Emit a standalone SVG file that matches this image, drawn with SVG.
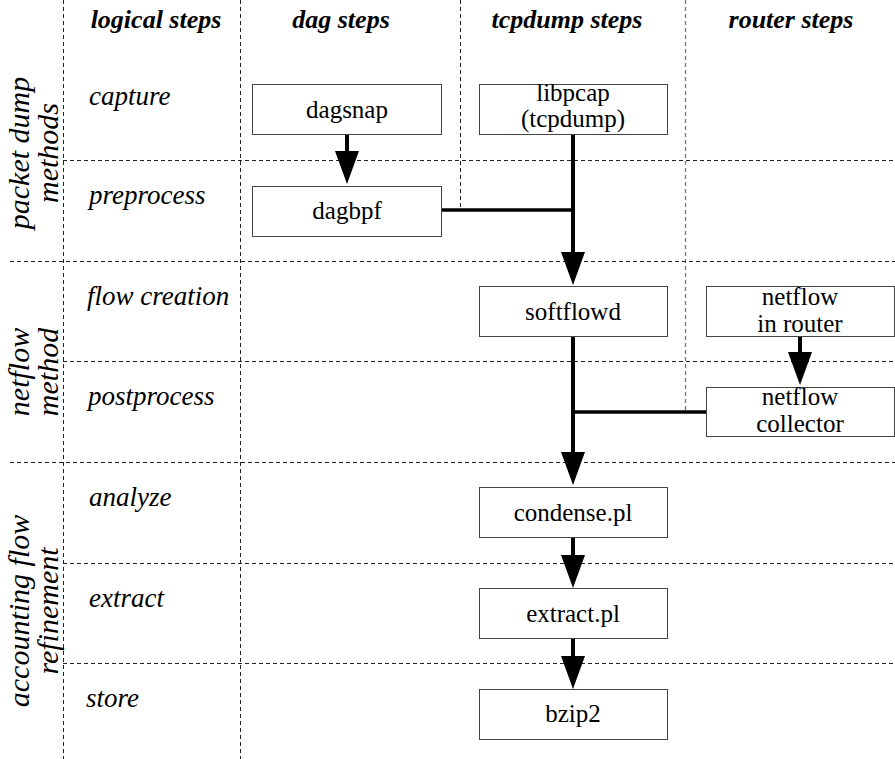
<svg xmlns="http://www.w3.org/2000/svg" width="895" height="759" viewBox="0 0 895 759" font-family="'Liberation Serif', 'Times New Roman', Times, 'DejaVu Serif', serif">
<style>
.grid{stroke:#222;stroke-width:1;stroke-dasharray:4,3;fill:none}
.grid2{stroke:#777;stroke-width:1.3;stroke-dasharray:4,3;fill:none}
.hdr{font-family:'Liberation Serif','Times New Roman','DejaVu Serif',serif;font-weight:bold;font-style:italic;font-size:26px;text-anchor:middle;fill:#000}
.row{font-family:'Liberation Serif','Times New Roman','DejaVu Serif',serif;font-style:italic;font-size:27px;fill:#000}
.grp{font-family:'Liberation Serif','Times New Roman','DejaVu Serif',serif;font-style:italic;font-size:30px;text-anchor:middle;fill:#000}
.box{fill:#fff;stroke:#444;stroke-width:1}
.lbl{font-family:'Liberation Serif','Times New Roman','DejaVu Serif',serif;font-size:25px;text-anchor:middle;fill:#000}
.conn{stroke:#000;stroke-width:4;fill:none}
.conn2{stroke:#000;stroke-width:3.5;fill:none}
</style>
<defs>
<marker id="ah" markerUnits="userSpaceOnUse" viewBox="0 0 33 24" refX="23" refY="12" markerWidth="33" markerHeight="24" orient="auto">
<path d="M0,0 L33,12 L0,24 z" fill="#000"/>
</marker>
</defs>
<rect width="895" height="759" fill="#fff"/>
<g id="grid">
<line class="grid" x1="63.5" y1="0" x2="63.5" y2="759"/>
<line class="grid" x1="240.5" y1="0" x2="240.5" y2="759"/>
<line class="grid" x1="460.5" y1="0" x2="460.5" y2="207"/>
<line class="grid2" x1="685.5" y1="0" x2="685.5" y2="410"/>
<line class="grid" x1="63" y1="160.5" x2="895" y2="160.5"/>
<line class="grid" x1="10" y1="261.5" x2="895" y2="261.5"/>
<line class="grid" x1="63" y1="361.5" x2="895" y2="361.5"/>
<line class="grid" x1="10" y1="462.5" x2="895" y2="462.5"/>
<line class="grid" x1="63" y1="563.5" x2="895" y2="563.5"/>
<line class="grid" x1="63" y1="663.5" x2="895" y2="663.5"/>
</g>
<g id="headers">
<text class="hdr" x="156" y="28">logical steps</text>
<text class="hdr" x="341" y="28">dag steps</text>
<text class="hdr" x="567" y="28">tcpdump steps</text>
<text class="hdr" x="791" y="28">router steps</text>
</g>
<g id="rows">
<text class="row" x="89" y="105">capture</text>
<text class="row" x="89" y="204">preprocess</text>
<text class="row" x="87" y="305">flow creation</text>
<text class="row" x="88" y="405">postprocess</text>
<text class="row" x="89" y="506">analyze</text>
<text class="row" x="89" y="607">extract</text>
<text class="row" x="86" y="707">store</text>
</g>
<g id="groups">
<text class="grp" transform="translate(29,153) rotate(-90)">packet dump</text>
<text class="grp" transform="translate(58,153) rotate(-90)">methods</text>
<text class="grp" transform="translate(29,372) rotate(-90)">netflow</text>
<text class="grp" transform="translate(58,372) rotate(-90)">method</text>
<text class="grp" transform="translate(29,611) rotate(-90)">accounting flow</text>
<text class="grp" transform="translate(58,611) rotate(-90)">refinement</text>
</g>
<g id="connectors">
<line class="conn" x1="347" y1="135" x2="347" y2="174" marker-end="url(#ah)"/>
<line class="conn" x1="573" y1="135" x2="573" y2="275" marker-end="url(#ah)"/>
<line class="conn2" x1="442" y1="210" x2="575" y2="210"/>
<line class="conn" x1="573" y1="337" x2="573" y2="475" marker-end="url(#ah)"/>
<line class="conn2" x1="571" y1="412" x2="706" y2="412"/>
<line class="conn" x1="800" y1="337" x2="800" y2="375" marker-end="url(#ah)"/>
<line class="conn" x1="573" y1="537" x2="573" y2="578" marker-end="url(#ah)"/>
<line class="conn" x1="573" y1="638" x2="573" y2="679" marker-end="url(#ah)"/>
</g>
<g id="dagsnap">
<rect class="box" x="252.5" y="84.5" width="189" height="50"/>
<text class="lbl" x="347" y="118">dagsnap</text>
</g>
<g id="dagbpf">
<rect class="box" x="252.5" y="186.5" width="189" height="50"/>
<text class="lbl" x="347" y="219">dagbpf</text>
</g>
<g id="libpcap">
<rect class="box" x="479.5" y="84.5" width="188" height="50"/>
<text class="lbl" x="573" y="101">libpcap</text>
<text class="lbl" x="573" y="127">(tcpdump)</text>
</g>
<g id="softflowd">
<rect class="box" x="479.5" y="286.5" width="188" height="50"/>
<text class="lbl" x="573" y="320">softflowd</text>
</g>
<g id="netflow_router">
<rect class="box" x="706.5" y="286.5" width="188" height="50"/>
<text class="lbl" x="800" y="305">netflow</text>
<text class="lbl" x="800" y="332">in router</text>
</g>
<g id="netflow_collector">
<rect class="box" x="706.5" y="387.5" width="188" height="49"/>
<text class="lbl" x="800" y="405">netflow</text>
<text class="lbl" x="800" y="432">collector</text>
</g>
<g id="condense">
<rect class="box" x="479.5" y="487.5" width="188" height="50"/>
<text class="lbl" x="573" y="521">condense.pl</text>
</g>
<g id="extract">
<rect class="box" x="479.5" y="588.5" width="188" height="50"/>
<text class="lbl" x="573" y="622">extract.pl</text>
</g>
<g id="bzip2">
<rect class="box" x="479.5" y="689.5" width="188" height="50"/>
<text class="lbl" x="573" y="722">bzip2</text>
</g>
</svg>
